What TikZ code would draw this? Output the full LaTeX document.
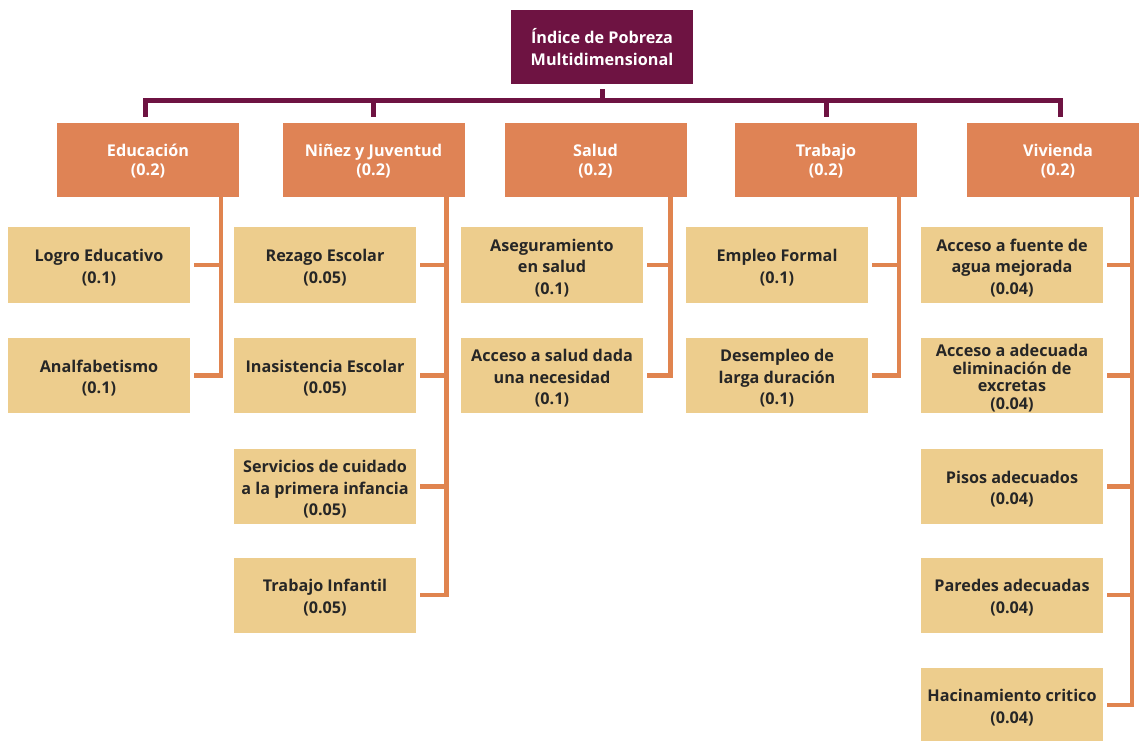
\documentclass[tikz,border=0pt]{standalone}
\usepackage{fontspec}
\setmainfont{Open Sans}
\definecolor{plum}{HTML}{6E1342}
\definecolor{ora}{HTML}{DF8355}
\definecolor{orl}{HTML}{E0844F}
\definecolor{tan}{HTML}{EDCD8D}
\definecolor{ink}{HTML}{262626}
\newcommand\lowr{\rule{0pt}{18pt}}
\newcommand\lowc{\rule{0pt}{15pt}}
\begin{document}
\begin{tikzpicture}[x=1pt,y=1pt,
  base/.style={rectangle,inner sep=0pt,minimum width=182pt,minimum height=74pt,align=center,
    font=\fontsize{16.2}{21.5}\selectfont\bfseries},
  rootbox/.style={base,fill=plum,text=white},
  catbox/.style={base,fill=ora,text=white,font=\fontsize{16.2}{19.5}\selectfont\bfseries},
  subbox/.style={base,fill=tan,text=ink,minimum height=75pt},
  busline/.style={draw=plum,line width=5pt,line join=miter},
  brline/.style={draw=orl,line width=4.5pt,line join=miter}]
\useasboundingbox (0,0) rectangle (1139,740);
% root
\node[rootbox] (root) at (602,693) {Índice de Pobreza\\Multidimensional};
% categories
\node[catbox] (edu) at (148,580) {\lowc Educación\\(0.2)};
\node[catbox] (nin) at (373.5,580) {\lowc Niñez y Juventud\\(0.2)};
\node[catbox] (sal) at (595.5,580) {\lowc Salud\\(0.2)};
\node[catbox] (tra) at (826,580) {\lowc Trabajo\\(0.2)};
\node[catbox] (viv) at (1058,580) {\lowc Vivienda\\(0.2)};
% sub items
\node[subbox] (e1) at (99,475) {\lowr Logro Educativo\\(0.1)};
\node[subbox] (e2) at (99,364.5) {\lowr Analfabetismo\\(0.1)};
\node[subbox] (n1) at (325,475) {\lowr Rezago Escolar\\(0.05)};
\node[subbox] (n2) at (325,364.5) {\lowr Inasistencia Escolar\\(0.05)};
\node[subbox] (n3) at (325,253.5) {\lowr Servicios de cuidado\\a la primera infancia\\(0.05)};
\node[subbox] (n4) at (325,145) {\lowr Trabajo Infantil\\(0.05)};
\node[subbox] (s1) at (552,475) {\lowr Aseguramiento\\en salud\\(0.1)};
\node[subbox] (s2) at (552,364.5) {\lowr Acceso a salud dada\\una necesidad\\(0.1)};
\node[subbox] (t1) at (777,475) {\lowr Empleo Formal\\(0.1)};
\node[subbox] (t2) at (777,364.5) {\lowr Desempleo de\\larga duración\\(0.1)};
\node[subbox] (v1) at (1012,475) {\lowr Acceso a fuente de\\agua mejorada\\(0.04)};
\node[subbox,font=\fontsize{16.2}{17.5}\selectfont\bfseries] (v2) at (1012,364.5) {\lowr Acceso a adecuada\\eliminación de\\excretas\\(0.04)};
\node[subbox] (v3) at (1012,253.5) {\lowr Pisos adecuados\\(0.04)};
\node[subbox] (v4) at (1012,145) {\lowr Paredes adecuadas\\(0.04)};
\node[subbox] (v5) at (1012,35) {\lowr Hacinamiento critico\\(0.04)};
% bus
\coordinate (bus) at (0,639);
\draw[busline] ([yshift=-5pt]root.south) -- (root.south |- bus);
\draw[busline] ([yshift=6pt,xshift=-3pt]edu.north) -- ([xshift=-3pt]edu.north |- bus) -- ([xshift=2pt]viv.north |- bus) -- ([yshift=6pt,xshift=2pt]viv.north);
\draw[busline] (nin.north |- bus) -- ([yshift=6pt]nin.north);
\draw[busline] (tra.north |- bus) -- ([yshift=6pt]tra.north);
% branch verticals
\coordinate (ve) at ([xshift=-18pt]edu.south east);
\coordinate (vn) at ([xshift=-18pt]nin.south east);
\coordinate (vs) at ([xshift=-16pt]sal.south east);
\coordinate (vt) at ([xshift=-18pt]tra.south east);
\coordinate (vv) at ([xshift=-17pt]viv.south east);
\draw[brline] (ve) |- ([xshift=4pt]e2.east);
\draw[brline] ([xshift=4pt]e1.east) -- (e1.east -| ve);
\draw[brline] (vn) |- ([xshift=4pt]n4.east);
\foreach \n in {n1,n2,n3} \draw[brline] ([xshift=4pt]\n.east) -- (\n.east -| vn);
\draw[brline] (vs) |- ([xshift=4pt]s2.east);
\draw[brline] ([xshift=4pt]s1.east) -- (s1.east -| vs);
\draw[brline] (vt) |- ([xshift=4pt]t2.east);
\draw[brline] ([xshift=4pt]t1.east) -- (t1.east -| vt);
\draw[brline] (vv) |- ([xshift=4pt]v5.east);
\foreach \n in {v1,v2,v3,v4} \draw[brline] ([xshift=4pt]\n.east) -- (\n.east -| vv);
\end{tikzpicture}
\end{document}
